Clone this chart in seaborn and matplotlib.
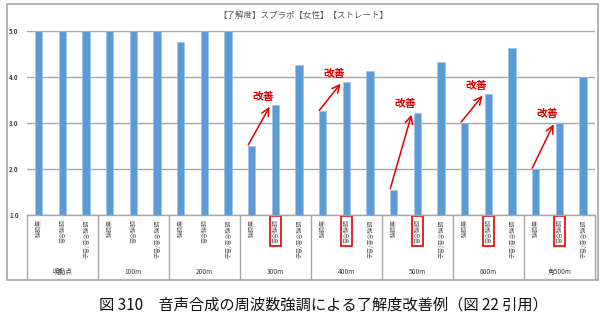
import matplotlib
matplotlib.use("Agg")
import matplotlib.pyplot as plt
import seaborn as sns
import pandas as pd
from matplotlib.patches import Rectangle

# ---- data ----
groups = ['鳴動点', '100m', '200m', '300m', '400m', '500m', '600m', '角500m']
conds = ['強調無', '音合強調', '子音/音合強調']
no_emph = [5.0, 5.0, 4.75, 2.5, 3.25, 1.55, 3.0, 2.0]
vowel_emph = [5.0, 5.0, 5.0, 3.38, 3.88, 3.21, 3.62, 3.0]
cons_emph = [5.0, 5.0, 5.0, 4.25, 4.12, 4.33, 4.62, 4.0]
improved_groups = ['300m', '400m', '500m', '600m', '角500m']
yticks = [1.0, 2.0, 3.0, 4.0, 5.0]
title = '【了解度】スプラポ【女性】【ストレート】'
caption = '図 310　音声合成の周波数強調による了解度改善例（図 22 引用）'
note = '改善'

sns.set_theme(style='white')
plt.rcParams['font.family'] = ['Noto Sans CJK JP', 'DejaVu Sans']

rows = []
for g, a, b, c in zip(groups, no_emph, vowel_emph, cons_emph):
    for cond, v in zip(conds, [a, b, c]):
        rows.append({'key': g + '|' + cond, 'group': g, 'cond': cond, 'value': v})
df = pd.DataFrame(rows)
keys = list(df['key'])

fig = plt.figure(figsize=(6.08, 3.31), dpi=100)
ax = fig.add_axes([0.0444, 0.3505, 0.9342, 0.5568])

sns.barplot(data=df, x='key', y='value', order=keys, color='#5B9BD5',
            saturation=1, width=0.31, edgecolor='#9DC3E6', linewidth=0.4, ax=ax)

ax.set_ylim(1, 5)
ax.set_xlim(-0.5, len(keys) - 0.5)
ax.set_yticks(yticks)
ax.set_yticklabels([f'{t:.1f}' for t in yticks], fontsize=4.5, color='#404040',
                   fontweight='bold')
ax.yaxis.grid(True, color='#a6a6a6', linewidth=1.0)
ax.set_axisbelow(True)
for s in ['top', 'right', 'left']:
    ax.spines[s].set_visible(False)
ax.spines['bottom'].set_color('#a6a6a6')
ax.spines['bottom'].set_linewidth(1.0)
ax.tick_params(axis='y', length=0, pad=6)
ax.tick_params(axis='x', length=0, pad=3)
ax.set_xlabel('')
ax.set_ylabel('')

ax.set_xticks(range(len(keys)))
ax.set_xticklabels(list(df['cond']), rotation=90, fontsize=4.3, color='#595959',
                   va='top', ha='center')
for lbl, g, cond in zip(ax.get_xticklabels(), df['group'], df['cond']):
    if g in improved_groups and cond == conds[1]:
        lbl.set_bbox(dict(facecolor='none', edgecolor='#e00000', linewidth=1.2,
                          boxstyle='square,pad=0.45'))

# group separators and labels
xt = ax.get_xaxis_transform()
n = len(conds)
for gi in range(len(groups) + 1):
    ax.plot([gi * n - 0.5, gi * n - 0.5], [0, -0.347], transform=xt,
            color='#a6a6a6', linewidth=1.0, clip_on=False)
for gi, g in enumerate(groups):
    ax.text(gi * n + 1, -0.31, g, transform=xt, ha='center', va='center',
            fontsize=4.8, color='#404040')

# improvement annotations
for gi, g in enumerate(groups):
    if g not in improved_groups:
        continue
    i1 = gi * n
    i2 = gi * n + 1
    v1 = no_emph[gi]
    v2 = vowel_emph[gi]
    ax.annotate('', xy=(i2 - 0.25, v2 - 0.03), xytext=(i1 - 0.15, v1 + 0.02),
                arrowprops=dict(arrowstyle='->,head_length=0.45,head_width=0.22',
                                color='#e00000', lw=1.1, shrinkA=0, shrinkB=0))
    ax.text(i2 - 0.5, v2 + 0.19, note, ha='center', va='center', fontsize=7.8,
            color='#e00000', fontweight='bold')

# title and outer frame
fig.text(0.499, 0.952, title, ha='center', va='center', fontsize=6.1, color='#595959')
fig.patches.append(Rectangle((0.0115, 0.154), 0.972, 0.834, transform=fig.transFigure,
                             facecolor='none', edgecolor='#a6a6a6', linewidth=1.2))
fig.text(0.532, 0.0785, caption, ha='center', va='center', fontsize=11, color='#111111')

fig.savefig('out.png', dpi=100)
